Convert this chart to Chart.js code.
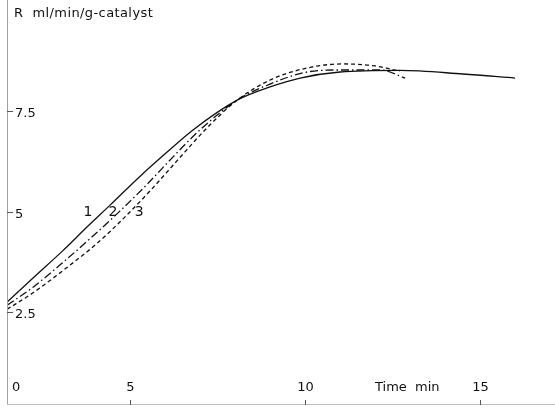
<!DOCTYPE html>
<html>
<head>
<meta charset="utf-8">
<title>R vs time</title>
<script src="https://cdn.jsdelivr.net/npm/chart.js"></script>
<style>
  html, body { margin: 0; padding: 0; background: #fff; }
  #wrap { width: 555px; height: 408px; }
</style>
</head>
<body>
<div id="wrap"><canvas id="rateChart" width="555" height="408"></canvas></div>
<script>
// curve 1 (solid), curve 2 (dash-dot), curve 3 (dashed): time (min) vs R (ml/min/g-catalyst)
const time1 = [1.49, 2.23, 3.06, 3.8, 4.43, 5.29, 6.06, 6.8, 8.06, 9.0, 9.86, 11.0, 12.71, 14.51, 16.0];
const rate1 = [2.75, 3.35, 4.01, 4.64, 5.16, 5.88, 6.48, 7.03, 7.77, 8.10, 8.32, 8.47, 8.51, 8.42, 8.32];
const time2 = [1.49, 2.23, 3.09, 3.94, 4.71, 5.49, 6.23, 7.0, 8.06, 9.0, 10.06, 11.0, 12.14, 12.86];
const rate2 = [2.67, 3.12, 3.74, 4.39, 5.01, 5.68, 6.36, 7.03, 7.77, 8.17, 8.47, 8.52, 8.52, 8.32];
const time3 = [1.49, 2.23, 3.2, 4.06, 4.71, 5.57, 6.34, 7.2, 8.06, 9.0, 10.06, 11.09, 12.0, 12.71];
const rate3 = [2.57, 2.98, 3.61, 4.21, 4.74, 5.51, 6.26, 7.08, 7.77, 8.27, 8.57, 8.67, 8.62, 8.49];

const xTicks = [5, 10, 15];
const xTickLabels = ['5', '10', '15'];
const yTicks = [2.5, 5, 7.5];
const yTickLabels = ['2.5', '5', '7.5'];
const curveLabels = ['1', '2', '3'];
const curveLabelPos = [[3.8, 4.99], [4.51, 4.99], [5.26, 4.97]];

const xMin = 1.486, xMax = 17.14;
const yMin = 0.19, yMax = 10.26;

function pts(xs, ys) { return xs.map((x, i) => ({x: x, y: ys[i]})); }

// axes, ticks and text drawn by hand, positions taken from the scales
const axisPlugin = {
  id: 'axisPlugin',
  afterDatasetsDraw(chart) {
    const ctx = chart.ctx;
    const xs = chart.scales.x, ys = chart.scales.y;
    const x0 = xs.getPixelForValue(xMin), yBase = ys.getPixelForValue(yMin);
    ctx.save();
    ctx.strokeStyle = '#a0a0a0';
    ctx.lineWidth = 1;
    ctx.beginPath();
    ctx.moveTo(x0 + 0.5, 0); ctx.lineTo(x0 + 0.5, yBase);
    ctx.stroke();
    ctx.strokeStyle = '#c0c0c0';
    ctx.beginPath();
    ctx.moveTo(x0, yBase - 0.5); ctx.lineTo(chart.width, yBase - 0.5);
    ctx.stroke();

    ctx.fillStyle = '#111';
    ctx.strokeStyle = '#555';
    ctx.font = '13px "DejaVu Sans"';
    ctx.textBaseline = 'middle';
    ctx.textAlign = 'left';
    yTicks.forEach((v, i) => {
      const py = Math.round(ys.getPixelForValue(v)) + 0.5;
      ctx.beginPath(); ctx.moveTo(x0, py); ctx.lineTo(x0 + 6, py); ctx.stroke();
      ctx.fillText(yTickLabels[i], x0 + 8, py + 2);
    });
    ctx.textAlign = 'center';
    xTicks.forEach((v, i) => {
      const px = Math.round(xs.getPixelForValue(v)) + 0.5;
      ctx.beginPath(); ctx.moveTo(px, yBase); ctx.lineTo(px, yBase - 5); ctx.stroke();
      ctx.fillText(xTickLabels[i], px, yBase - 17);
    });
    ctx.textAlign = 'left';
    ctx.fillText('0', x0 + 5, yBase - 17);
    ctx.fillText('Time  min', 375, yBase - 17);
    ctx.letterSpacing = '0.4px';
    ctx.fillText('R  ml/min/g-catalyst', x0 + 7, 14);
    ctx.letterSpacing = '0px';

    ctx.font = '14px "DejaVu Sans"';
    ctx.textAlign = 'center';
    curveLabels.forEach((t, i) => {
      ctx.fillText(t, xs.getPixelForValue(curveLabelPos[i][0]), ys.getPixelForValue(curveLabelPos[i][1]));
    });
    ctx.restore();
  }
};

const lineBase = { borderColor: '#111', borderWidth: 1.3, pointRadius: 0, fill: false, cubicInterpolationMode: 'monotone' };

new Chart(document.getElementById('rateChart').getContext('2d'), {
  type: 'line',
  data: {
    datasets: [
      Object.assign({ label: '1', data: pts(time1, rate1) }, lineBase),
      Object.assign({ label: '2', data: pts(time2, rate2), borderDash: [8, 3, 1.5, 3] }, lineBase),
      Object.assign({ label: '3', data: pts(time3, rate3), borderDash: [4, 3] }, lineBase)
    ]
  },
  options: {
    responsive: false,
    animation: false,
    layout: { padding: { left: 7, right: 0, top: 0, bottom: 3 } },
    plugins: { legend: { display: false }, tooltip: { enabled: false } },
    scales: {
      x: { type: 'linear', min: xMin, max: xMax, display: false },
      y: { type: 'linear', min: yMin, max: yMax, display: false }
    }
  },
  plugins: [axisPlugin]
});
</script>
</body>
</html>
